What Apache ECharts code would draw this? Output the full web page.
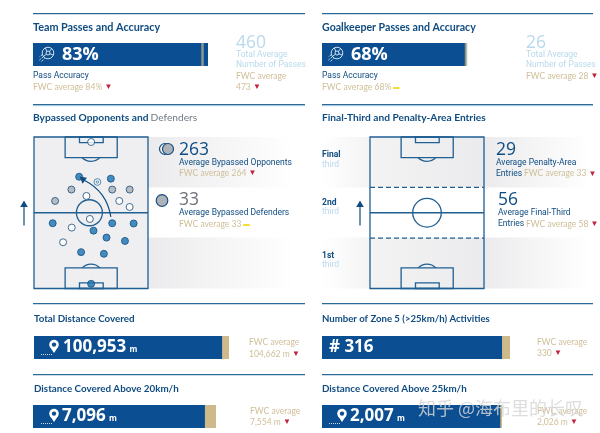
<!DOCTYPE html>
<html>
<head>
<meta charset="utf-8">
<script src="https://cdn.jsdelivr.net/npm/echarts@6/dist/echarts.min.js"></script>
<style>
  html, body { margin: 0; padding: 0; background: #fff; }
  #chart { width: 600px; height: 433px; }
</style>
</head>
<body>
<div id="chart"></div>
<script>
// bars, in drawing order
const barValues = [83, 68, 100953, 7096, 316, 2007];
const barLabels = ['83%', '68%', '100,953', '7,096', '# 316', '2,007'];
const barUnits = ['', '', 'm', 'm', '', 'm'];
// distance bars run against the tournament average
const fwcBarValues = [null, null, 104662, 7554, 330, 2026];
const passMarkers = [80.4, 68];

// players on the pitch, [across %, up the pitch %]
const playersBlue = [[39.6, 73.8], [67.4, 72.5], [16.4, 43.1], [68.6, 43.1], [87.4, 42.9], [52.2, 38.2],
  [63.6, 33.6], [79.8, 31.4], [41.3, 24], [61.3, 22.9], [50.1, 3.1]];
const playersGrey = [[32.8, 65.3], [68.6, 65.3], [83.9, 65.3], [18.5, 57.8]];
const playersWhite = [[50.1, 96.7], [46, 61.1], [74.8, 57.8], [83.9, 53.8], [49, 45.9], [33.1, 40.2], [25.5, 30.5]];

const NAVY = '#0f4c81', LINE = '#1f5f92', TAN = '#cfbf98', SKY = '#b9d9ec', RED = '#c3203c', YEL = '#f4dc2e';
const BODY = 'Roboto', NUM = '"Open Sans"', HEAD = 'Lato';

// grid boxes: left, top, width
const barBoxes = [[33, 43, 175], [322, 43, 144], [34, 336, 195], [33, 405, 183], [322, 336, 188], [322, 405, 180]];
const grids = [], xAxes = [], yAxes = [], series = [];

barValues.forEach((v, i) => {
  const b = barBoxes[i];
  const fwc = fwcBarValues[i];
  grids.push({ left: b[0], top: b[1], width: b[2], height: 23 });
  xAxes.push({ gridIndex: i, type: 'value', show: false, min: 0, max: fwc || v });
  yAxes.push({ gridIndex: i, type: 'category', show: false, data: ['v'] });
  if (fwc) {
    series.push({ type: 'bar', xAxisIndex: i, yAxisIndex: i, data: [fwc], barWidth: 23, barGap: '-100%',
      itemStyle: { color: '#cdb98a' }, silent: true });
  }
  const labelX = [29, 29, 29, 29, 7, 28][i];
  series.push({
    type: 'bar', xAxisIndex: i, yAxisIndex: i, data: [v], barWidth: 23, barGap: '-100%', z: 3,
    itemStyle: { color: '#0b4f92' }, silent: true,
    label: {
      show: true, position: [labelX, '50%'], verticalAlign: 'middle',
      formatter: () => '{v|' + barLabels[i] + '}' + (barUnits[i] ? ' {u|' + barUnits[i] + '}' : ''),
      rich: {
        v: { fontFamily: NUM, fontWeight: 700, fontSize: i < 2 ? 18 : 17, color: '#fff' },
        u: { fontFamily: NUM, fontWeight: 700, fontSize: 8, color: '#fff', padding: [5, 0, 0, 0] }
      }
    }
  });
  if (i < 2) {
    series.push({ type: 'scatter', xAxisIndex: i, yAxisIndex: i, data: [[passMarkers[i], 0]], symbol: 'rect',
      symbolSize: [2.5, 23], itemStyle: { color: '#aaa98f' }, z: 4, silent: true });
  }
});

// one pitch grid each for the two middle panels
function pitchSeries(gridIdx, withFill, circle, thirds) {
  grids.push({ left: gridIdx === 6 ? 34 : 370, top: 137, width: 114, height: 151.5 });
  xAxes.push({ gridIndex: gridIdx, type: 'value', show: false, min: 0, max: 100 });
  yAxes.push({ gridIndex: gridIdx, type: 'value', show: false, min: 0, max: 100 });
  return {
    type: 'custom', xAxisIndex: gridIdx, yAxisIndex: gridIdx, data: [[50, 50]], silent: true, z: 2, clip: false,
    renderItem: (params, api) => {
      const c = (x, y) => api.coord([x, y]);
      const st = { stroke: LINE, fill: 'none', lineWidth: 1.3 };
      const line = (x1, y1, x2, y2, dash) => {
        const a = c(x1, y1), b = c(x2, y2);
        return { type: 'line', shape: { x1: a[0], y1: a[1], x2: b[0], y2: b[1] },
          style: Object.assign({}, st, dash ? { lineDash: [5, 3] } : {}) };
      };
      const box = (x1, y1, x2, y2, fill) => {
        const a = c(x1, y2), b = c(x2, y1);
        return { type: 'rect', shape: { x: a[0], y: a[1], width: b[0] - a[0], height: b[1] - a[1] },
          style: Object.assign({}, st, fill ? { fill } : {}) };
      };
      const top = c(50, 86.4), bot = c(50, 13.6), mid = c(circle[0], 50);
      const kids = [
        box(0, 0, 100, 100, withFill ? '#efeff1' : null),
        line(0, 50, 100, 50),
        { type: 'circle', shape: { cx: mid[0], cy: mid[1], r: circle[1] }, style: st },
        box(27.3, 86.4, 73, 100), box(39.9, 96.3, 60.7, 100),
        box(27.3, 0, 73, 13.6), box(39.9, 0, 60.7, 3.7),
        { type: 'arc', shape: { cx: top[0], cy: top[1] - 8.7, r: 12.4, startAngle: Math.PI / 2 - 0.79, endAngle: Math.PI / 2 + 0.79 }, style: st },
        { type: 'arc', shape: { cx: bot[0], cy: bot[1] + 8.7, r: 12.4, startAngle: Math.PI * 1.5 - 0.79, endAngle: Math.PI * 1.5 + 0.79 }, style: st }
      ];
      if (thirds) kids.push(line(0, 66.7, 100, 66.7, true), line(0, 33.3, 100, 33.3, true));
      return { type: 'group', children: kids };
    }
  };
}

series.push(pitchSeries(6, true, [48.6, 13], false));
series.push(pitchSeries(7, false, [50, 14.3], true));

const dotStyle = (fill) => ({ color: fill, borderColor: '#174f80', borderWidth: 1 });
[[playersBlue, '#1673b4'], [playersGrey, '#a9afb6'], [playersWhite, '#ffffff']].forEach(([d, fill]) => {
  series.push({ type: 'scatter', xAxisIndex: 6, yAxisIndex: 6, data: d, symbolSize: 7, itemStyle: dotStyle(fill), z: 4, silent: true });
});

// curved pass arrow and the little ball beside it
series.push({
  type: 'custom', xAxisIndex: 6, yAxisIndex: 6, data: [[50, 50]], silent: true, z: 5, clip: false,
  renderItem: (params, api) => {
    const p0 = api.coord([67.4, 47.3]), p1 = api.coord([64, 64]), p2 = api.coord([44, 71.5]);
    const ball = api.coord([55.6, 70.3]);
    return { type: 'group', children: [
      { type: 'bezierCurve', shape: { x1: p0[0], y1: p0[1], x2: p2[0], y2: p2[1], cpx1: p1[0], cpy1: p1[1] },
        style: { stroke: NAVY, fill: 'none', lineWidth: 1.2 } },
      { type: 'polygon', shape: { points: [[p2[0] - 4.6, p2[1] - 3.8], [p2[0] + 2.8, p2[1] - 2.4], [p2[0] - 1.6, p2[1] + 3.6]] }, style: { fill: NAVY } },
      { type: 'circle', shape: { cx: ball[0], cy: ball[1], r: 3.4 }, style: { stroke: '#2f74a8', fill: 'none', lineWidth: 0.8 } },
      { type: 'circle', shape: { cx: ball[0], cy: ball[1], r: 1.2 }, style: { stroke: '#2f74a8', fill: 'none', lineWidth: 0.7 } }
    ] };
  }
});

// ---- everything around the marks ----
const gfx = [];
const txt = (x, y, text, style) => gfx.push({ type: 'text', x, y, z: 10, silent: true,
  style: Object.assign({ text, fontFamily: BODY, fontSize: 8.5, fill: NAVY, verticalAlign: 'middle', align: 'left' }, style) });
const rule = (x, y, w) => gfx.push({ type: 'rect', shape: { x, y, width: w, height: 1.2 }, style: { fill: '#2b6a96' }, z: 1, silent: true });
const title = (x, y, text, size) => txt(x, y, text, { fontFamily: HEAD, fontWeight: 700, fontSize: size || 10.4 });
const big = (x, y, text, fill) => txt(x, y, text, { fontFamily: NUM, fontSize: 17.5, fill: fill || NAVY });
const rich = { f: { fontFamily: HEAD, fontSize: 8.5, fill: TAN, color: TAN },
  r: { fontSize: 8, fill: RED, color: RED }, y: { fontSize: 6.5, fontWeight: 700, fill: YEL, color: YEL } };
const fwc = (x, y, s, mark) => txt(x, y, '{f|' + s + '}' + (mark === 'down' ? '{r| ▼}' : mark === 'same' ? '{y| ▬}' : ''), { rich });

[[33, 13], [322, 13], [33, 104], [322, 104], [33, 303], [322, 303], [33, 374], [322, 374]]
  .forEach(r => rule(r[0], r[1], r[0] === 33 ? 272 : 271));
gfx.push({ type: 'rect', shape: { x: 33, y: 105.2, width: 272, height: 1 }, style: { fill: '#bfe0f0' }, silent: true });
gfx.push({ type: 'rect', shape: { x: 322, y: 105.2, width: 271, height: 1 }, style: { fill: '#bfe0f0' }, silent: true });

// fading panels behind the pitches
const fade = (stops) => ({ type: 'linear', x: 0, y: 0, x2: 1, y2: 0, colorStops: stops.map(s => ({ offset: s[0], color: s[1] })) });
[137, 237.5].forEach(y => {
  gfx.push({ type: 'rect', shape: { x: 148, y, width: 147, height: y === 137 ? 50.5 : 51 }, style: { fill: fade([[0, '#ebebed'], [1, '#ffffff']]) }, silent: true });
  gfx.push({ type: 'rect', shape: { x: 322, y, width: 268, height: y === 137 ? 50.5 : 51 },
    style: { fill: fade([[0, '#ffffff'], [0.18, '#f3f3f4'], [0.6, '#ebebed'], [1, '#ffffff']]) }, silent: true });
});

// top panels
title(33, 28, 'Team Passes and Accuracy', 10.8);
title(322, 28, 'Goalkeeper Passes and Accuracy', 10.6);
txt(33, 76, 'Pass Accuracy');
fwc(33, 87, 'FWC average 84%', 'down');
txt(322, 76, 'Pass Accuracy');
fwc(322, 87, 'FWC average 68%', 'same');
big(236, 43, '460', SKY);
txt(236, 55, 'Total Average', { fill: SKY });
txt(236, 65, 'Number of Passes', { fill: SKY });
fwc(236, 76, 'FWC average');
fwc(236, 87, '473', 'down');
big(526, 43, '26', SKY);
txt(526, 55, 'Total Average', { fill: SKY });
txt(526, 65, 'Number of Passes', { fill: SKY });
fwc(526, 76, 'FWC average 28', 'down');

// middle left
txt(33, 118, '{a|Bypassed Opponents and} {b|Defenders}', { rich: {
  a: { fontFamily: HEAD, fontWeight: 700, fontSize: 10.2, fill: NAVY, color: NAVY },
  b: { fontFamily: HEAD, fontSize: 10.2, fill: '#6f7a85', color: '#6f7a85' } } });
const stroke = { stroke: '#174f80', lineWidth: 1.2 };
gfx.push({ type: 'circle', shape: { cx: 165, cy: 149, r: 5.5 }, style: Object.assign({ fill: '#f4f4f5' }, stroke), z: 3, silent: true });
gfx.push({ type: 'circle', shape: { cx: 168, cy: 149, r: 5.5 }, style: Object.assign({ fill: '#aeb3b9' }, stroke), z: 3, silent: true });
gfx.push({ type: 'circle', shape: { cx: 162, cy: 200.5, r: 5.8 }, style: Object.assign({ fill: '#aeb3b9' }, stroke), z: 3, silent: true });
big(179, 150, '263');
txt(179, 163, 'Average Bypassed Opponents');
fwc(179, 173, 'FWC average 264', 'down');
big(179, 200, '33', '#6d7278');
txt(179, 213, 'Average Bypassed Defenders');
fwc(179, 224, 'FWC average 33', 'same');

// middle right
title(322, 118, 'Final-Third and Penalty-Area Entries', 10.2);
[['Final', 155, 164.5], ['2nd', 203, 212], ['1st', 256, 265]].forEach(t => {
  txt(322, t[1], t[0], { fontWeight: 700, fontSize: 8.5 });
  txt(322, t[2], 'third', { fontSize: 8.5, fill: SKY });
});
big(496, 150, '29');
txt(496, 163, 'Average Penalty-Area');
txt(496, 173.5, 'Entries');
fwc(524, 173.5, 'FWC average 33', 'down');
big(498, 200, '56');
txt(498, 213, 'Average Final-Third');
txt(498, 224, 'Entries');
fwc(526, 224, 'FWC average 58', 'down');

// up arrows
[24, 360].forEach(x => {
  gfx.push({ type: 'line', shape: { x1: x, y1: 206, x2: x, y2: 225.5 }, style: { stroke: NAVY, lineWidth: 1.2 }, silent: true });
  gfx.push({ type: 'polygon', shape: { points: [[x, 200.5], [x + 3.8, 207], [x - 3.8, 207]] }, style: { fill: NAVY }, silent: true });
});

// bottom panels
title(34, 319, 'Total Distance Covered', 9.8);
title(34, 389, 'Distance Covered Above 20km/h', 9.8);
title(322, 319, 'Number of Zone 5 (>25km/h) Activities', 9.6);
title(322, 389, 'Distance Covered Above 25km/h', 9.8);
fwc(249, 342, 'FWC average');
fwc(249, 354, '104,662 m', 'down');
fwc(250, 411, 'FWC average');
fwc(250, 422, '7,554 m', 'down');
fwc(537, 342, 'FWC average');
fwc(537, 353, '330', 'down');
fwc(537, 411, 'FWC average');
fwc(537, 422, '2,026 m', 'down');

// icons on the bars
const pin = (x, tip) => {
  gfx.push({ type: 'circle', shape: { cx: x, cy: tip - 8.4, r: 4.8 }, style: { fill: '#fff' }, z: 10, silent: true });
  gfx.push({ type: 'polygon', shape: { points: [[x, tip], [x - 4.3, tip - 6.4], [x + 4.3, tip - 6.4]] }, style: { fill: '#fff' }, z: 10, silent: true });
  gfx.push({ type: 'circle', shape: { cx: x, cy: tip - 8.4, r: 2.2 }, style: { fill: '#0b4f92' }, z: 11, silent: true });
  gfx.push({ type: 'line', shape: { x1: x - 13, y1: tip + 1.5, x2: x - 1, y2: tip + 1.5 }, style: { stroke: '#fff', lineWidth: 0.8, lineDash: [1, 1] }, z: 10, silent: true });
};
pin(54, 353);
pin(54, 422);
pin(342, 422);

const ball = (x, y) => {
  const s = { stroke: '#fff', fill: 'none', lineWidth: 0.8 };
  gfx.push({ type: 'circle', shape: { cx: x, cy: y, r: 5.8 }, style: s, z: 10, silent: true });
  gfx.push({ type: 'circle', shape: { cx: x, cy: y, r: 2 }, style: s, z: 10, silent: true });
  [[-1.6, 1.2, -4.6, 3.4], [1.4, -1.4, 3.6, -4.4], [-1.2, -1.6, -2.6, -5], [1.8, 0.8, 5.2, 2]].forEach(l =>
    gfx.push({ type: 'line', shape: { x1: x + l[0], y1: y + l[1], x2: x + l[2], y2: y + l[3] }, style: s, z: 10, silent: true }));
  [[-5, 4, -9, 7.5], [-3.4, 5.4, -7, 9], [-6, 1.8, -8.4, 3.6]].forEach(l =>
    gfx.push({ type: 'line', shape: { x1: x + l[0], y1: y + l[1], x2: x + l[2], y2: y + l[3] }, style: Object.assign({}, s, { lineDash: [1.4, 0.8] }), z: 10, silent: true }));
};
ball(48, 53);
ball(337, 53);

// site watermark
txt(418, 408, '知乎 @海布里的长叹', { fontFamily: '"Noto Sans CJK SC"', fontSize: 18, fill: 'rgba(214,214,214,0.82)' });

const myChart = echarts.init(document.getElementById('chart'));
myChart.setOption({
  animation: false,
  backgroundColor: '#fff',
  grid: grids,
  xAxis: xAxes,
  yAxis: yAxes,
  series,
  graphic: { elements: gfx }
});
</script>
</body>
</html>
